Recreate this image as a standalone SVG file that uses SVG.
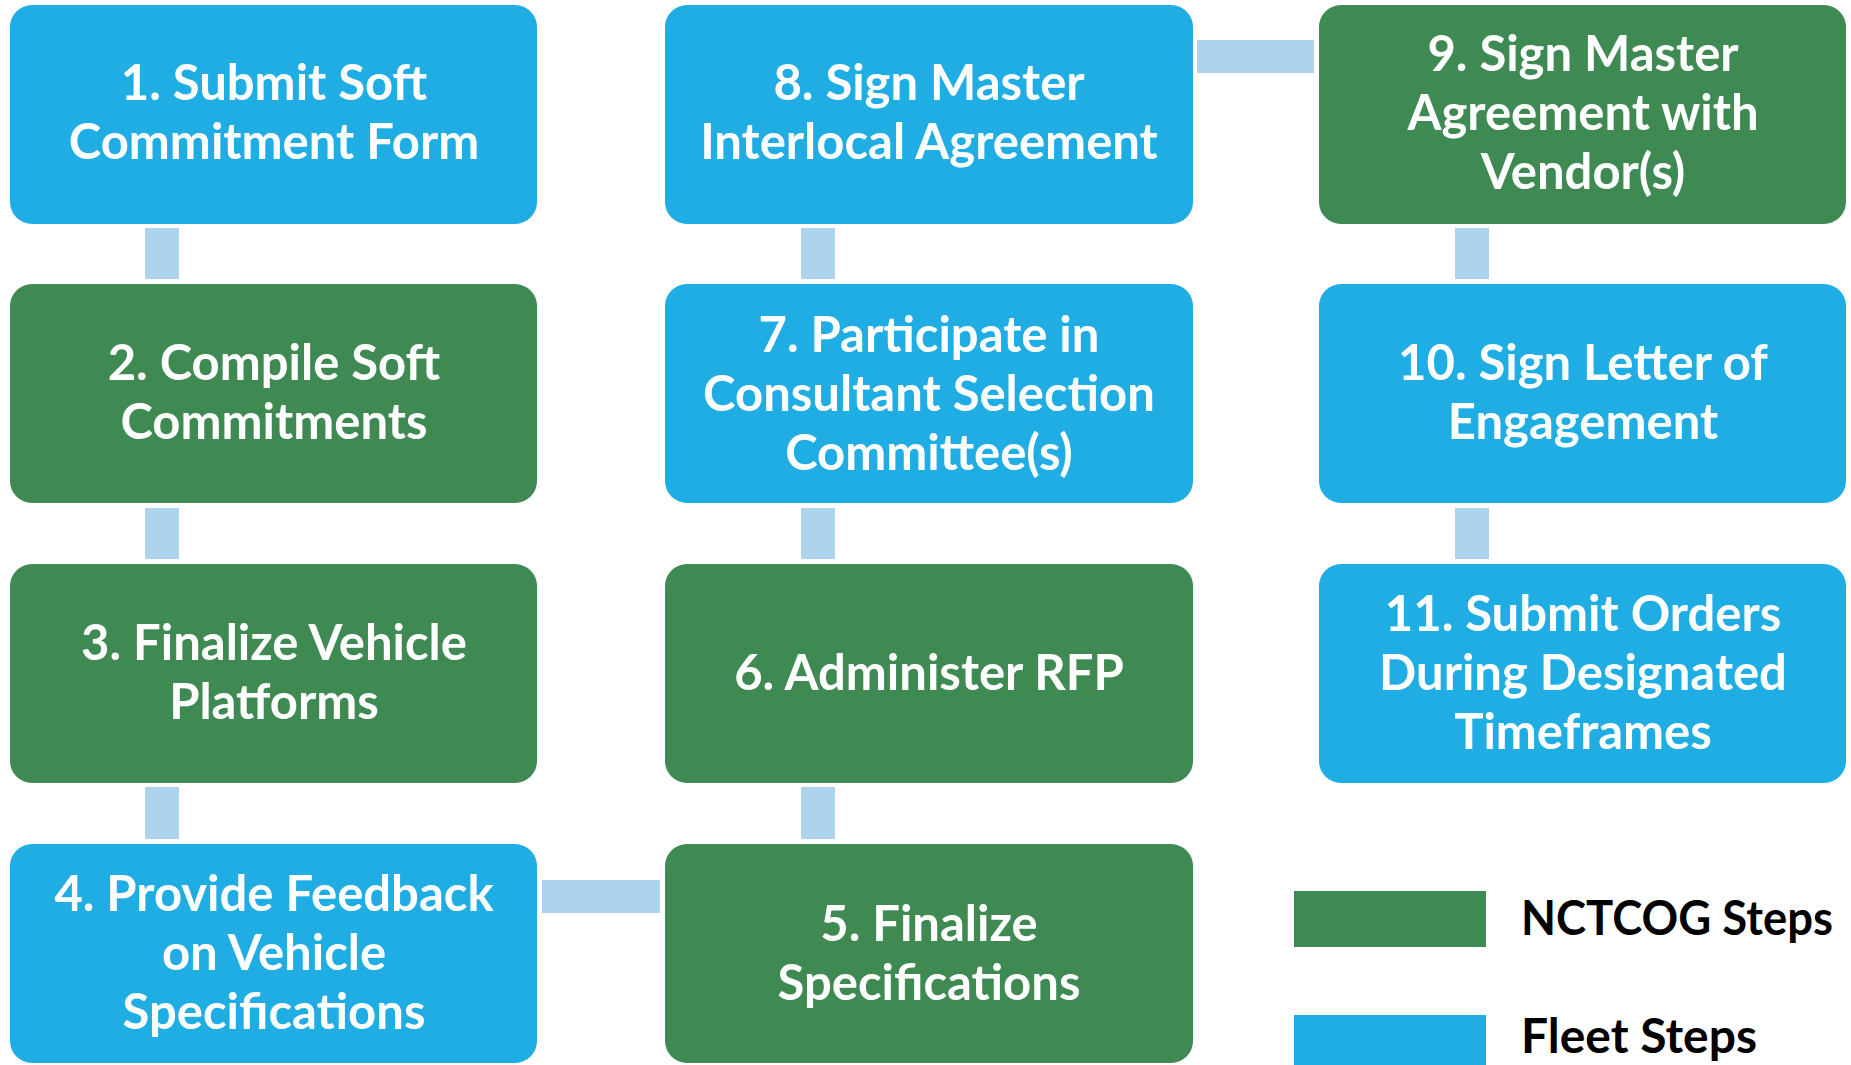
<svg xmlns="http://www.w3.org/2000/svg" width="1851" height="1065" viewBox="0 0 1851 1065">
<style>
.fleet{fill:#1FADE4}
.nct{fill:#3F8953}
.conn{fill:#AED3EF}
.t{font-family:Lato,"Open Sans","Liberation Sans",sans-serif;font-weight:700;font-size:49px;fill:#FFFFFF;text-anchor:middle}
.lg{font-family:Lato,"Open Sans","Liberation Sans",sans-serif;font-weight:700;font-size:47px;fill:#000000}
</style>
<rect width="1851" height="1065" fill="#FFFFFF"/>
<g id="connectors">
<rect class="conn" x="145" y="228" width="34" height="51"/>
<rect class="conn" x="145" y="508" width="34" height="51"/>
<rect class="conn" x="145" y="787" width="34" height="52"/>
<rect class="conn" x="542" y="880" width="118" height="33"/>
<rect class="conn" x="801" y="787" width="34" height="52"/>
<rect class="conn" x="801" y="508" width="34" height="51"/>
<rect class="conn" x="801" y="228" width="34" height="51"/>
<rect class="conn" x="1197" y="40" width="117" height="33"/>
<rect class="conn" x="1455" y="228" width="34" height="51"/>
<rect class="conn" x="1455" y="508" width="34" height="51"/>
</g>
<g id="node1"><rect class="fleet" x="10" y="5" width="527" height="219" rx="22"/>
<text class="t" x="274" y="100">1. Submit Soft</text><text class="t" x="274" y="159">Commitment Form</text></g>
<g id="node2"><rect class="nct" x="10" y="284" width="527" height="219" rx="22"/>
<text class="t" x="274" y="380">2. Compile Soft</text><text class="t" x="274" y="439">Commitments</text></g>
<g id="node3"><rect class="nct" x="10" y="564" width="527" height="219" rx="22"/>
<text class="t" x="274" y="660">3. Finalize Vehicle</text><text class="t" x="274" y="719">Platforms</text></g>
<g id="node4"><rect class="fleet" x="10" y="844" width="527" height="219" rx="22"/>
<text class="t" x="274" y="911">4. Provide Feedback</text><text class="t" x="274" y="970">on Vehicle</text><text class="t" x="274" y="1029">Specifications</text></g>
<g id="node5"><rect class="nct" x="665" y="844" width="528" height="219" rx="22"/>
<text class="t" x="929" y="941">5. Finalize</text><text class="t" x="929" y="1000">Specifications</text></g>
<g id="node6"><rect class="nct" x="665" y="564" width="528" height="219" rx="22"/>
<text class="t" x="929" y="690">6. Administer RFP</text></g>
<g id="node7"><rect class="fleet" x="665" y="284" width="528" height="219" rx="22"/>
<text class="t" x="929" y="352">7. Participate in</text><text class="t" x="929" y="411">Consultant Selection</text><text class="t" x="929" y="470">Committee(s)</text></g>
<g id="node8"><rect class="fleet" x="665" y="5" width="528" height="219" rx="22"/>
<text class="t" x="929" y="100">8. Sign Master</text><text class="t" x="929" y="159">Interlocal Agreement</text></g>
<g id="node9"><rect class="nct" x="1319" y="5" width="527" height="219" rx="22"/>
<text class="t" x="1583" y="71">9. Sign Master</text><text class="t" x="1583" y="130">Agreement with</text><text class="t" x="1583" y="189">Vendor(s)</text></g>
<g id="node10"><rect class="fleet" x="1319" y="284" width="527" height="219" rx="22"/>
<text class="t" x="1583" y="380">10. Sign Letter of</text><text class="t" x="1583" y="439">Engagement</text></g>
<g id="node11"><rect class="fleet" x="1319" y="564" width="527" height="219" rx="22"/>
<text class="t" x="1583" y="631">11. Submit Orders</text><text class="t" x="1583" y="690">During Designated</text><text class="t" x="1583" y="749">Timeframes</text></g>
<g id="legend">
<rect class="nct" x="1294" y="891" width="192" height="56"/>
<text class="lg" x="1521" y="935" textLength="312" lengthAdjust="spacingAndGlyphs">NCTCOG Steps</text>
<rect class="fleet" x="1294" y="1015" width="192" height="56"/>
<text class="lg" x="1521" y="1053" textLength="236" lengthAdjust="spacingAndGlyphs">Fleet Steps</text>
</g>
</svg>
